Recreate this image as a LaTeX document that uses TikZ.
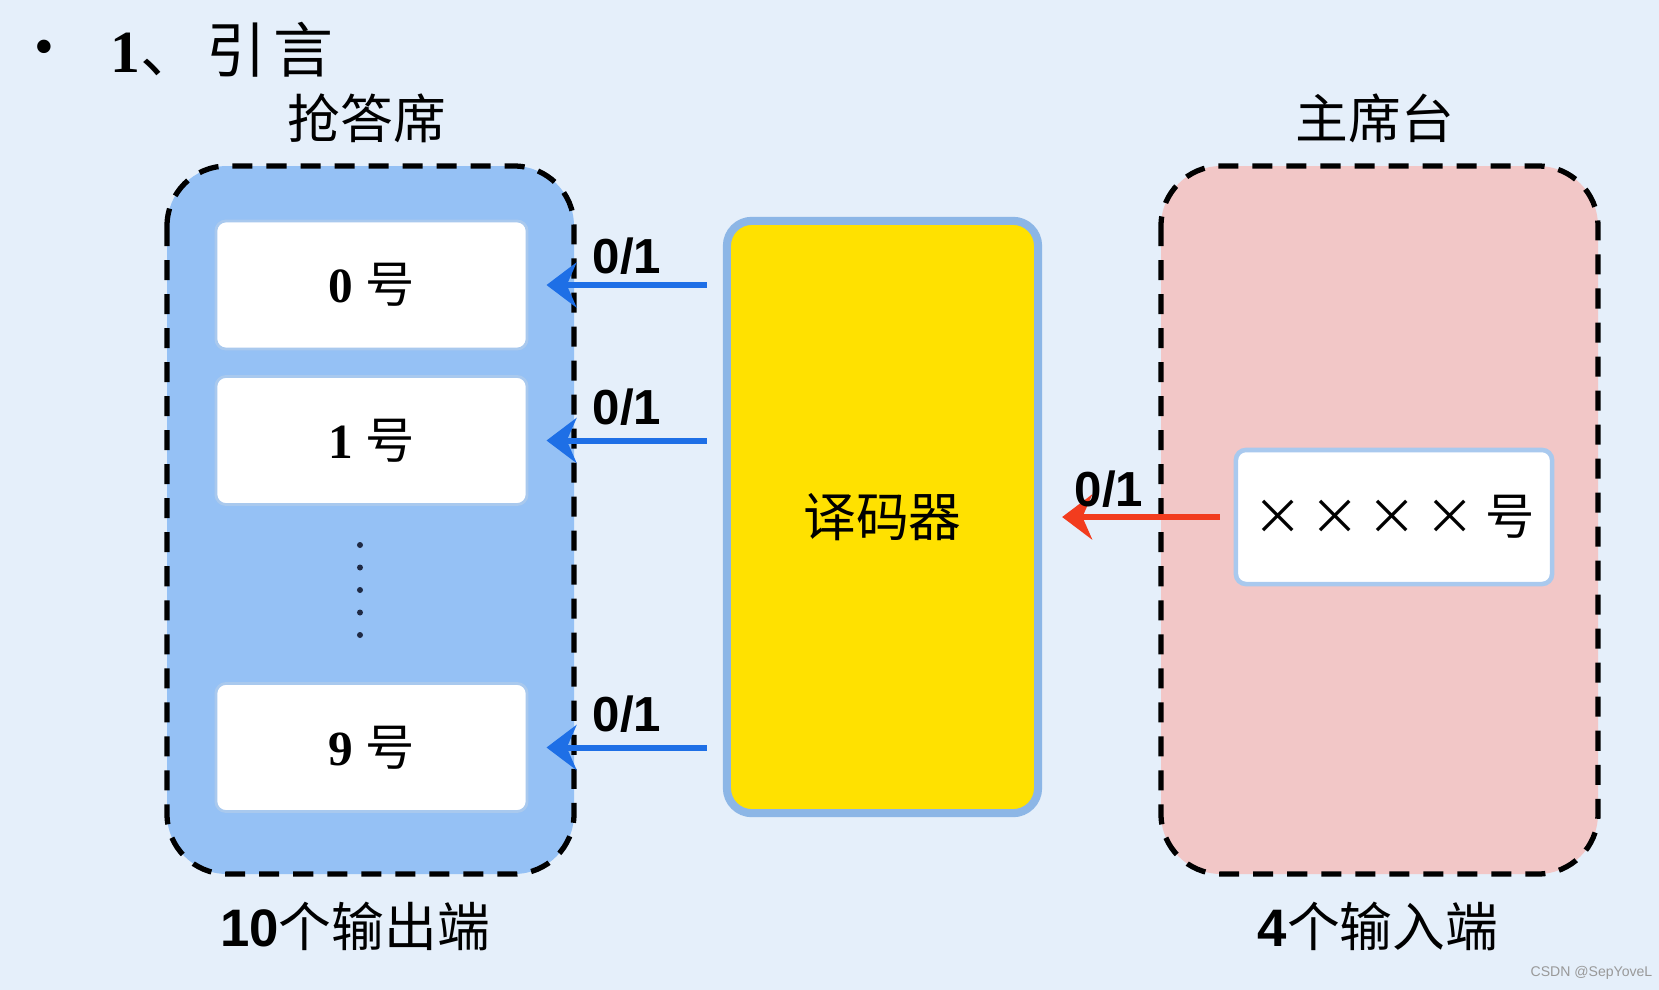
\documentclass[tikz,border=0pt]{standalone}
\usepackage{fontspec}
\setmainfont{Liberation Serif}
\setsansfont{Liberation Sans}
\newfontfamily\cjk{Noto Sans CJK SC}
\usetikzlibrary{arrows.meta}
\definecolor{bgblue}{HTML}{E5EFFA}
\definecolor{seatfill}{HTML}{95C1F5}
\definecolor{hostfill}{HTML}{F2C7C7}
\definecolor{decyellow}{HTML}{FFE100}
\definecolor{decline}{HTML}{8CB6E6}
\definecolor{boxline}{HTML}{A9C9EE}
\definecolor{arrowblue}{HTML}{1E6FE6}
\definecolor{arrowred}{HTML}{F23C1E}
\definecolor{dotnavy}{HTML}{1F2A44}
\begin{document}
\begin{tikzpicture}[x=0.01cm,y=-0.01cm,
  seat/.style={draw=boxline,line width=0.8pt,fill=white,rounded corners=0.1cm,
    minimum width=3.11cm,minimum height=1.28cm,inner sep=0pt,
    font=\fontsize{14pt}{14pt}\selectfont},
  zone/.style={line width=1.5pt,dash pattern=on 0.2cm off 0.14cm,rounded corners=0.6cm},
  bitlabel/.style={font=\sffamily\bfseries\fontsize{14pt}{14pt}\selectfont},
  heading/.style={font=\cjk\fontsize{15pt}{15pt}\selectfont},
  outarr/.style={arrowblue,line width=1.7pt,-{Stealth[length=0.3cm,width=0.45cm]}},
  inarr/.style={arrowred,line width=1.7pt,-{Stealth[length=0.3cm,width=0.45cm]}}]
\fill[bgblue] (0,0) rectangle (1659,990);
\useasboundingbox (0,0) rectangle (1659,990);
% title
\node[font=\fontsize{16pt}{16pt}\selectfont] (bul) at (44,53) {\textbullet};
\node[anchor=west,font=\fontsize{17pt}{17pt}\selectfont] (title) at (98,50)
  {\textbf{1}{\cjk 、\hspace{0.1em}引\hspace{0.12em}言}};
% zones
\filldraw[zone,fill=seatfill] (167,166) rectangle (574,874);
\filldraw[zone,fill=hostfill] (1161,166) rectangle (1598,874);
\node[heading] (seats) at (367,118) {抢答席};
\node[heading] (host) at (1375,118) {主席台};
% seats
\node[seat] (b0) at (371.5,285) {\textbf{0} {\cjk 号}};
\node[seat] (b1) at (371.5,440.5) {\textbf{1} {\cjk 号}};
\node[seat] (b9) at (371.5,747.5) {\textbf{9} {\cjk 号}};
\foreach \y in {545,567.5,590,612.5,635}
  \fill[dotnavy] (360,\y) circle (0.03cm);
% decoder
\node[draw=decline,line width=2.3pt,fill=decyellow,rounded corners=0.25cm,
  minimum width=3.11cm,minimum height=5.92cm,heading] (dec) at (882.5,517) {译码器};
% host selector
\node[seat,draw=boxline,line width=1.3pt,minimum width=3.16cm,minimum height=1.34cm,
  font=\cjk\fontsize{14pt}{14pt}\selectfont] (sel) at (1394,517) {×\,×\,×\,× 号};
% connectors
\draw[outarr,shorten <=0.16cm,shorten >=0.18cm] (dec.west |- b0) -- (b0.east);
\draw[outarr,shorten <=0.16cm,shorten >=0.18cm] (dec.west |- b1) -- (b1.east);
\draw[outarr,shorten <=0.16cm,shorten >=0.18cm] (dec.west |- b9) -- (b9.east);
\draw[inarr,shorten <=0.14cm,shorten >=0.2cm] (sel.west) -- (dec.east |- sel);
\node[bitlabel] (l0) at (627,256) {0/1};
\node[bitlabel] (l1) at (627,407) {0/1};
\node[bitlabel] (l9) at (627,714) {0/1};
\node[bitlabel] (lin) at (1109,489) {0/1};
% captions
\node[heading] (outs) at (355,926) {{\sffamily\bfseries 10}个输出端};
\node[heading] (ins) at (1378,926) {{\sffamily\bfseries 4}个输入端};
\node[anchor=east,inner sep=0pt,font=\sffamily\fontsize{4pt}{4pt}\selectfont,gray!80] (mark) at (1653,973) {CSDN @SepYoveL};
\end{tikzpicture}
\end{document}
